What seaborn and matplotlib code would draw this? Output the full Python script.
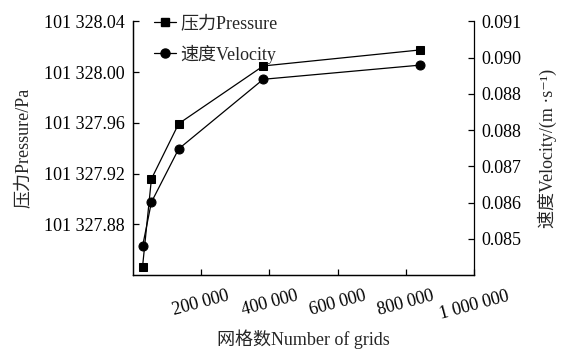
import matplotlib
matplotlib.use("Agg")
import matplotlib.pyplot as plt
import matplotlib.ticker as mticker
from matplotlib.lines import Line2D
import seaborn as sns
import pandas as pd

# Grid-independence study: number of grid cells vs. monitored pressure and velocity
grids = [28000, 54000, 134000, 382000, 841000]
pressure = [101327.8465, 101327.9157, 101327.9593, 101328.0048, 101328.0174]
velocity = [0.08479, 0.08601, 0.08748, 0.08940, 0.08979]

x_ticks = [200000, 400000, 600000, 800000, 1000000]
x_tick_labels = ["200 000", "400 000", "600 000", "800 000", "1 000 000"]
p_ticks = [101327.88, 101327.92, 101327.96, 101328.00, 101328.04]
p_tick_labels = ["101 327.88", "101 327.92", "101 327.96", "101 328.00", "101 328.04"]
v_ticks = [0.085, 0.086, 0.087, 0.088, 0.089, 0.090, 0.091]
v_tick_labels = ["0.085", "0.086", "0.087", "0.088", "0.088", "0.090", "0.091"]

sns.set_theme(style="ticks")
plt.rcParams["font.family"] = ["Liberation Serif", "Noto Sans CJK SC", "DejaVu Serif"]
FS = 13

df = pd.DataFrame({"grids": grids, "pressure": pressure, "velocity": velocity})

fig = plt.figure(figsize=(5.64, 3.51), dpi=100)
ax = fig.add_axes([133 / 564, 1 - 275 / 351, (474 - 133) / 564, (275 - 21.3) / 351])
ax2 = ax.twinx()

sns.lineplot(data=df, x="grids", y="pressure", ax=ax, color="black", lw=0.9,
             marker="s", markersize=6, markeredgecolor="black", legend=False)
sns.lineplot(data=df, x="grids", y="velocity", ax=ax2, color="black", lw=0.9,
             marker="o", markersize=6.5, markeredgecolor="black", legend=False)

ax.set_xlim(0, 1000000)
ax.set_ylim(101327.84, 101328.04)
ax2.set_ylim(0.084, 0.091)

ax.xaxis.set_major_locator(mticker.FixedLocator(x_ticks))
ax.xaxis.set_major_formatter(mticker.FixedFormatter(x_tick_labels))
ax.yaxis.set_major_locator(mticker.FixedLocator(p_ticks))
ax.yaxis.set_major_formatter(mticker.FixedFormatter(p_tick_labels))
ax2.yaxis.set_major_locator(mticker.FixedLocator(v_ticks))
ax2.yaxis.set_major_formatter(mticker.FixedFormatter(v_tick_labels))

for a in (ax, ax2):
    a.spines["top"].set_visible(False)
    for s in a.spines.values():
        s.set_linewidth(0.9)
        s.set_color("black")
ax.spines["right"].set_visible(False)

ax.tick_params(axis="x", direction="in", length=4, width=0.9, pad=9, labelsize=FS,
               labelrotation=15, colors="black")
ax.tick_params(axis="y", direction="in", length=4, width=0.9, pad=6, labelsize=FS,
               colors="black")
ax2.tick_params(axis="y", direction="in", length=4, width=0.9, pad=5, labelsize=FS,
                colors="black")
for lbl in ax.get_xticklabels():
    lbl.set_ha("center")

ax.set_xlabel("网格数Number of grids", fontsize=FS, labelpad=5)
ax.set_ylabel("压力Pressure/Pa", fontsize=FS, labelpad=9)
ax2.set_ylabel("速度Velocity/(m ·s⁻¹)", fontsize=FS, labelpad=12)

handles = [
    Line2D([], [], color="black", lw=0.9, marker="s", markersize=6),
    Line2D([], [], color="black", lw=0.9, marker="o", markersize=6.5),
]
ax.legend(handles, ["压力Pressure", "速度Velocity"], loc="upper left",
          bbox_to_anchor=(0.04, 1.052), frameon=False, fontsize=FS,
          handlelength=1.25, handletextpad=0.2, labelspacing=0.68, borderaxespad=0)

fig.savefig("out.png", dpi=100)
